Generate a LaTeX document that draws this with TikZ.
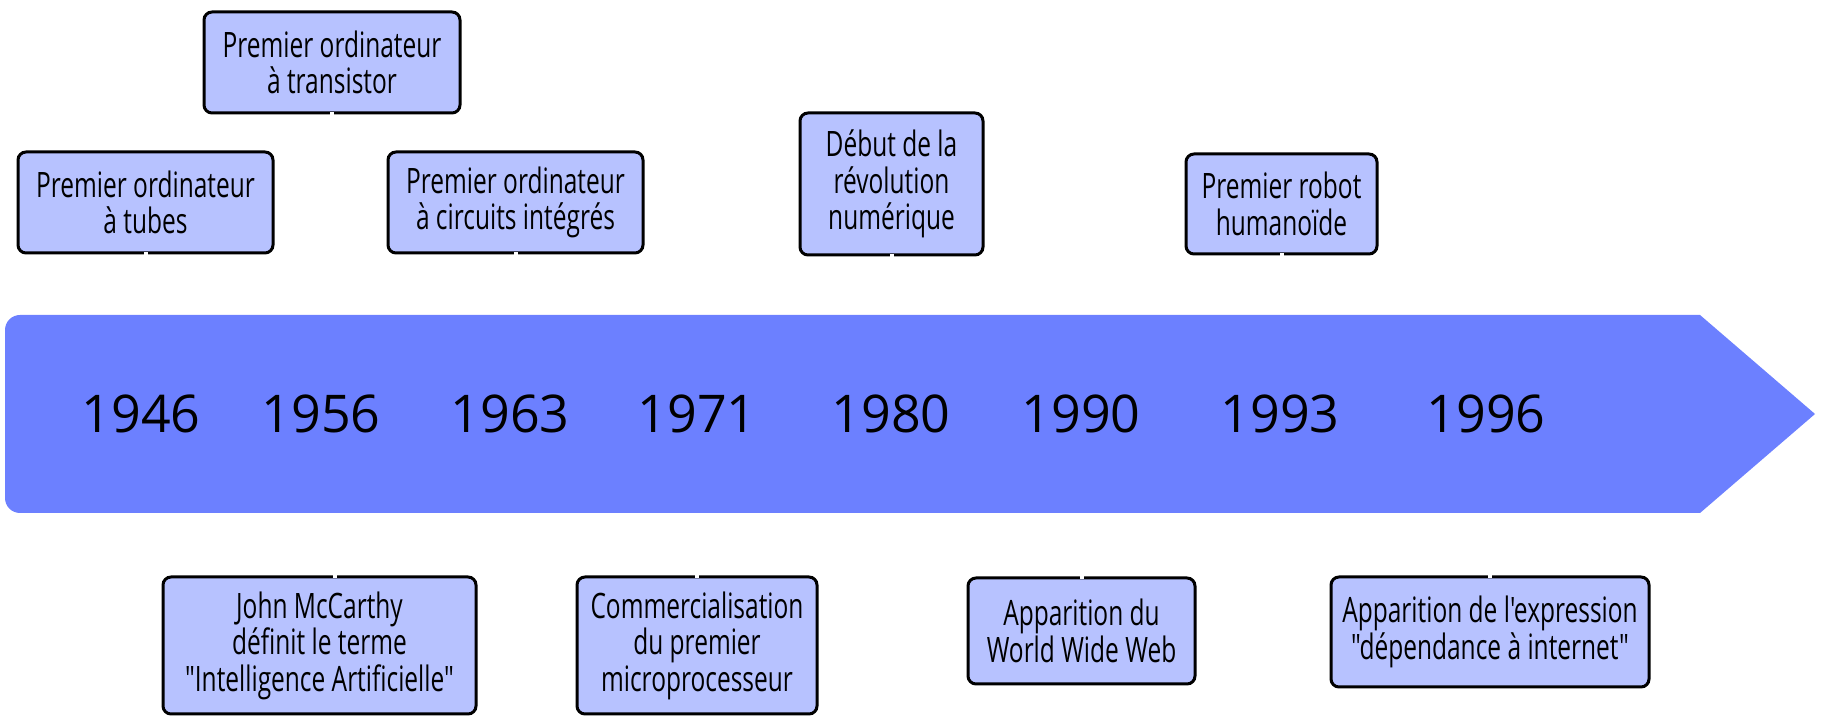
\documentclass[tikz,border=0pt]{standalone}
\usepackage{fontspec}
\newfontfamily\condfont[FakeStretch=0.70]{Open Sans}
\newfontfamily\yearfont{Open Sans}
\definecolor{arrowblue}{RGB}{108,128,255}
\definecolor{boxblue}{RGB}{183,194,255}
\tikzset{
  evbox/.style={draw=black, line width=3pt, rounded corners=8pt, fill=boxblue,
    align=center, inner sep=0pt, font=\condfont\fontsize{35}{36.5}\selectfont},
  yearlbl/.style={font=\yearfont\fontsize{52}{60}\selectfont, inner sep=0pt},
  notch/.style={draw=white, line width=4pt}
}
\begin{document}
\begin{tikzpicture}[x=1pt,y=1pt]
\useasboundingbox (0,0) rectangle (1830,722);
% timeline arrow
\fill[arrowblue] (1700,407) -- (1815,308) -- (1700,209) -- (20,209)
  arc[start angle=270,end angle=180,radius=15] -- (5,392)
  arc[start angle=180,end angle=90,radius=15] -- cycle;
% years
\node[yearlbl] (y1946) at (141,308.5) {1946};
\node[yearlbl] (y1956) at (321,308.5) {1956};
\node[yearlbl] (y1963) at (510,308.5) {1963};
\node[yearlbl] (y1971) at (697,308.5) {1971};
\node[yearlbl] (y1980) at (891,308.5) {1980};
\node[yearlbl] (y1990) at (1081,308.5) {1990};
\node[yearlbl] (y1993) at (1280,308.5) {1993};
\node[yearlbl] (y1996) at (1486,308.5) {1996};
% top events
\node[evbox, minimum width=255, minimum height=101] (b1) at (145.5,519.5) {Premier ordinateur\\à tubes};
\node[evbox, minimum width=256, minimum height=101] (b2) at (332,659.5) {Premier ordinateur\\à transistor};
\node[evbox, minimum width=255, minimum height=101] (b3) at (515.5,519.5) {Premier ordinateur\\à circuits intégrés};
\node[evbox, minimum width=183, minimum height=142] (b4) at (891.5,538) {Début de la\\révolution\\numérique};
\node[evbox, minimum width=191, minimum height=100] (b5) at (1281.5,518) {Premier robot\\humanoïde};
% bottom events
\node[evbox, minimum width=313, minimum height=137] (b6) at (319.5,76.5) {John McCarthy\\définit le terme\\"Intelligence Artificielle"};
\node[evbox, minimum width=240, minimum height=137] (b7) at (697,76.5) {Commercialisation\\du premier\\microprocesseur};
\node[evbox, minimum width=227, minimum height=106] (b8) at (1081.5,91) {Apparition du\\World Wide Web};
\node[evbox, minimum width=318, minimum height=110] (b9) at (1490,90) {Apparition de l'expression\\"dépendance à internet"};
% notches
\foreach \b in {b1,b2,b3,b4,b5}{
  \draw[notch] ([yshift=-2.5pt]\b.south) -- ([yshift=2.5pt]\b.south);
}
\foreach \b in {b7,b8,b9}{
  \draw[notch] ([yshift=-2.5pt]\b.north) -- ([yshift=2.5pt]\b.north);
}
\draw[notch] ([xshift=15pt,yshift=-2.5pt]b6.north) -- ([xshift=15pt,yshift=2.5pt]b6.north);
\end{tikzpicture}
\end{document}
